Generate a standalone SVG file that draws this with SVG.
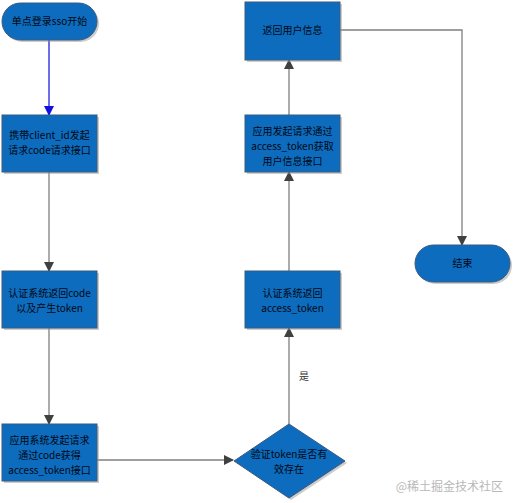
<svg xmlns="http://www.w3.org/2000/svg" width="516" height="503" viewBox="0 0 516 503">
<defs>
<style>
.n{fill:#0d6cbd;stroke:#3a5a80;stroke-width:1}
.sh{fill:#9a9a9a;opacity:0.5}
.t{font-family:"Noto Sans CJK SC","Liberation Sans",sans-serif;font-size:10px;text-anchor:middle;fill:#000814}
.c{fill:none;stroke:#7f7f7f;stroke-width:1.3}
.lbl{font-family:"Noto Sans CJK SC","Liberation Sans",sans-serif;font-size:10px;fill:#333}
</style>
<marker id="ag" markerWidth="10" markerHeight="10" refX="9" refY="5" orient="auto" markerUnits="userSpaceOnUse"><path d="M0,0 L10,5 L0,10 z" fill="#404040"/></marker>
<marker id="ab" markerWidth="10" markerHeight="10" refX="9" refY="5" orient="auto" markerUnits="userSpaceOnUse"><path d="M0,0 L10,5 L0,10 z" fill="#1010e0"/></marker>
</defs>
<rect width="516" height="503" fill="#ffffff"/>
<g id="connectors">
<line x1="49" y1="40" x2="49" y2="115" stroke="#2020e0" stroke-width="1.3" marker-end="url(#ab)"/>
<line class="c" x1="49" y1="172" x2="49" y2="271" marker-end="url(#ag)"/>
<line class="c" x1="49" y1="328" x2="49" y2="424" marker-end="url(#ag)"/>
<line class="c" x1="97" y1="460" x2="233" y2="460" marker-end="url(#ag)"/>
<line class="c" x1="289" y1="424" x2="289" y2="328" marker-end="url(#ag)"/>
<line class="c" x1="289" y1="271" x2="289" y2="172" marker-end="url(#ag)"/>
<line class="c" x1="289" y1="115" x2="289" y2="60" marker-end="url(#ag)"/>
<polyline class="c" points="340,30 462,30 462,245" marker-end="url(#ag)"/>
<text class="lbl" x="299" y="380">是</text>
</g>
<g id="start">
<rect class="sh" x="4" y="5" width="95" height="37" rx="18.5"/>
<rect class="n" x="2" y="3" width="95" height="37" rx="18.5"/>
<text class="t" x="49.5" y="25">单点登录sso开始</text>
</g>
<g id="box1">
<rect class="sh" x="4" y="117" width="95" height="57"/>
<rect class="n" x="2" y="115" width="95" height="57"/>
<text class="t" x="49.5" y="139">携带client_id发起</text>
<text class="t" x="49.5" y="154">请求code请求接口</text>
</g>
<g id="box2">
<rect class="sh" x="4" y="273" width="95" height="57"/>
<rect class="n" x="2" y="271" width="95" height="57"/>
<text class="t" x="49.5" y="297">认证系统返回code</text>
<text class="t" x="49.5" y="312">以及产生token</text>
</g>
<g id="box3">
<rect class="sh" x="4" y="426" width="95" height="57"/>
<rect class="n" x="2" y="424" width="95" height="57"/>
<text class="t" x="49.5" y="444">应用系统发起请求</text>
<text class="t" x="49.5" y="459">通过code获得</text>
<text class="t" x="49.5" y="474">access_token接口</text>
</g>
<g id="decision">
<polygon class="sh" points="291,426 347,463 291,500 237,463"/>
<polygon class="n" points="289,424 345,461 289,498 234,461"/>
<text class="t" x="289" y="458">验证token是否有</text>
<text class="t" x="289" y="473">效存在</text>
</g>
<g id="box4">
<rect class="sh" x="247" y="273" width="95" height="57"/>
<rect class="n" x="245" y="271" width="95" height="57"/>
<text class="t" x="292.5" y="297">认证系统返回</text>
<text class="t" x="292.5" y="312">access_token</text>
</g>
<g id="box5">
<rect class="sh" x="247" y="117" width="95" height="57"/>
<rect class="n" x="245" y="115" width="95" height="57"/>
<text class="t" x="292.5" y="135">应用发起请求通过</text>
<text class="t" x="292.5" y="150">access_token获取</text>
<text class="t" x="292.5" y="165">用户信息接口</text>
</g>
<g id="box6">
<rect class="sh" x="247" y="4" width="95" height="58"/>
<rect class="n" x="245" y="2" width="95" height="58"/>
<text class="t" x="292.5" y="34">返回用户信息</text>
</g>
<g id="end">
<rect class="sh" x="417" y="247" width="95" height="37" rx="18.5"/>
<rect class="n" x="415" y="245" width="95" height="37" rx="18.5"/>
<text class="t" x="462.5" y="267">结束</text>
</g>
<text x="503" y="491" font-family="Noto Sans CJK SC,sans-serif" font-size="12" fill="#b8b8b8" text-anchor="end">@稀土掘金技术社区</text>
</svg>
